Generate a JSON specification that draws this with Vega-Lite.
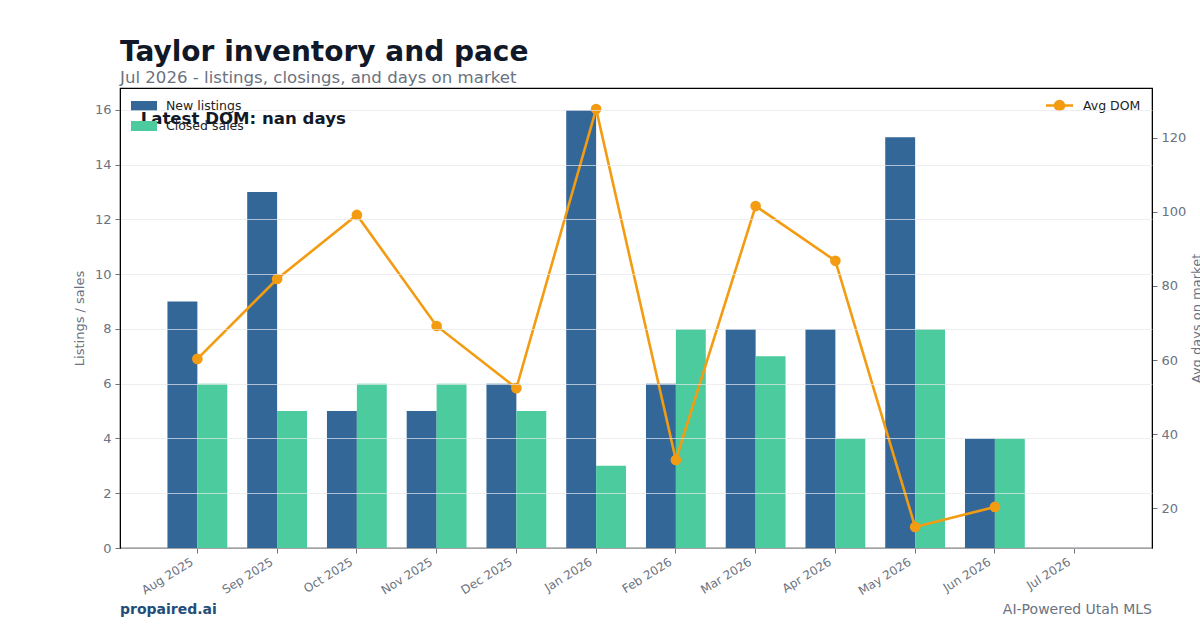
{
  "$schema": "https://vega.github.io/schema/vega-lite/v6.json",
  "autosize": {"type": "none"},
  "width": 1032,
  "height": 460,
  "padding": {"left": 120, "top": 88, "right": 48, "bottom": 82},
  "background": "white",
  "title": {
    "text": "Taylor inventory and pace",
    "subtitle": "Jul 2026 - listings, closings, and days on market",
    "anchor": "start",
    "frame": "group",
    "font": "DejaVu Sans",
    "fontSize": 28,
    "fontWeight": "bold",
    "color": "#111827",
    "subtitleFont": "DejaVu Sans",
    "subtitleFontSize": 16.6,
    "subtitleColor": "#6B7280",
    "subtitlePadding": 3,
    "offset": 1
  },
  "datasets": {
    "counts": [
      {"month": "Aug 2025", "series": "New listings", "value": 9},
      {"month": "Aug 2025", "series": "Closed sales", "value": 6},
      {"month": "Sep 2025", "series": "New listings", "value": 13},
      {"month": "Sep 2025", "series": "Closed sales", "value": 5},
      {"month": "Oct 2025", "series": "New listings", "value": 5},
      {"month": "Oct 2025", "series": "Closed sales", "value": 6},
      {"month": "Nov 2025", "series": "New listings", "value": 5},
      {"month": "Nov 2025", "series": "Closed sales", "value": 6},
      {"month": "Dec 2025", "series": "New listings", "value": 6},
      {"month": "Dec 2025", "series": "Closed sales", "value": 5},
      {"month": "Jan 2026", "series": "New listings", "value": 16},
      {"month": "Jan 2026", "series": "Closed sales", "value": 3},
      {"month": "Feb 2026", "series": "New listings", "value": 6},
      {"month": "Feb 2026", "series": "Closed sales", "value": 8},
      {"month": "Mar 2026", "series": "New listings", "value": 8},
      {"month": "Mar 2026", "series": "Closed sales", "value": 7},
      {"month": "Apr 2026", "series": "New listings", "value": 8},
      {"month": "Apr 2026", "series": "Closed sales", "value": 4},
      {"month": "May 2026", "series": "New listings", "value": 15},
      {"month": "May 2026", "series": "Closed sales", "value": 8},
      {"month": "Jun 2026", "series": "New listings", "value": 4},
      {"month": "Jun 2026", "series": "Closed sales", "value": 4}
    ],
    "dom": [
      {"month": "Aug 2025", "dom": 60.3},
      {"month": "Sep 2025", "dom": 81.9},
      {"month": "Oct 2025", "dom": 99.2},
      {"month": "Nov 2025", "dom": 69.2},
      {"month": "Dec 2025", "dom": 52.4},
      {"month": "Jan 2026", "dom": 127.8},
      {"month": "Feb 2026", "dom": 33.0},
      {"month": "Mar 2026", "dom": 101.6},
      {"month": "Apr 2026", "dom": 86.8},
      {"month": "May 2026", "dom": 14.9},
      {"month": "Jun 2026", "dom": 20.3}
    ]
  },
  "layer": [
    {
      "data": {"name": "counts"},
      "mark": {"type": "bar"},
      "encoding": {
        "x": {
          "field": "month",
          "type": "ordinal",
          "sort": null,
          "scale": {
            "type": "band",
            "domain": ["Aug 2025", "Sep 2025", "Oct 2025", "Nov 2025", "Dec 2025", "Jan 2026", "Feb 2026", "Mar 2026", "Apr 2026", "May 2026", "Jun 2026", "Jul 2026"],
            "paddingInner": 0.25,
            "paddingOuter": 0.595
          },
          "axis": {
            "title": null,
            "labelAngle": -32,
            "labelAlign": "right",
            "labelBaseline": "top",
            "labelFont": "DejaVu Sans",
            "labelFontSize": 12,
            "labelColor": "#6B7280",
            "labelOffset": -8,
            "tickColor": "#6B7280",
            "tickSize": 5,
            "labelPadding": 3,
            "domainColor": "#000000",
            "grid": false
          }
        },
        "xOffset": {
          "field": "series",
          "type": "nominal",
          "sort": ["New listings", "Closed sales"],
          "scale": {"domain": ["New listings", "Closed sales"], "paddingInner": 0, "paddingOuter": 0}
        },
        "y": {
          "field": "value",
          "type": "quantitative",
          "scale": {"domain": [0, 16.8], "nice": false, "zero": true},
          "axis": {
            "title": "Listings / sales",
            "titleFont": "DejaVu Sans",
            "titleFontSize": 13,
            "titleFontWeight": "normal",
            "titleColor": "#6B7280",
            "titlePadding": 8,
            "values": [0, 2, 4, 6, 8, 10, 12, 14, 16],
            "labelFont": "DejaVu Sans",
            "labelFontSize": 13,
            "labelColor": "#6B7280",
            "tickColor": "#6B7280",
            "tickSize": 5,
            "labelPadding": 4,
            "domainColor": "#000000",
            "grid": true,
            "gridColor": "#E5E7EB",
            "gridOpacity": 0.7,
            "gridWidth": 1,
            "zindex": 1
          }
        },
        "fill": {
          "field": "series",
          "type": "nominal",
          "sort": ["New listings", "Closed sales"],
          "scale": {"domain": ["New listings", "Closed sales"], "range": ["#336797", "#4BCB9E"]},
          "legend": {
            "title": null,
            "orient": "none",
            "legendX": 14,
            "legendY": 8,
            "padding": 0,
            "symbolType": "M-1.3,-0.5H1.3V0.5H-1.3Z",
            "symbolSize": 400,
            "symbolStrokeWidth": 0,
            "labelFont": "DejaVu Sans",
            "labelFontSize": 12.5,
            "labelColor": "#222222",
            "labelOffset": 12,
            "rowPadding": 3
          }
        }
      }
    },
    {
      "data": {"name": "dom"},
      "mark": {
        "type": "line",
        "strokeWidth": 2.6,
        "point": {"filled": true, "size": 75, "color": "#F39C12"}
      },
      "encoding": {
        "x": {
          "field": "month",
          "type": "ordinal",
          "sort": null,
          "scale": {
            "type": "band",
            "domain": ["Aug 2025", "Sep 2025", "Oct 2025", "Nov 2025", "Dec 2025", "Jan 2026", "Feb 2026", "Mar 2026", "Apr 2026", "May 2026", "Jun 2026", "Jul 2026"],
            "paddingInner": 0.25,
            "paddingOuter": 0.595
          },
          "axis": null
        },
        "y": {
          "field": "dom",
          "type": "quantitative",
          "scale": {"domain": [9.2, 133.5], "nice": false, "zero": false},
          "axis": {
            "orient": "right",
            "title": "Avg days on market",
            "titleAngle": 270,
            "titleFont": "DejaVu Sans",
            "titleFontSize": 13,
            "titleFontWeight": "normal",
            "titleColor": "#6B7280",
            "titlePadding": 18,
            "values": [20, 40, 60, 80, 100, 120],
            "labelFont": "DejaVu Sans",
            "labelFontSize": 13,
            "labelColor": "#6B7280",
            "tickColor": "#6B7280",
            "tickSize": 5,
            "labelPadding": 4,
            "domainColor": "#000000",
            "grid": false
          }
        },
        "stroke": {
          "datum": "Avg DOM",
          "type": "nominal",
          "scale": {"domain": ["Avg DOM"], "range": ["#F39C12"]},
          "legend": {
            "title": null,
            "orient": "none",
            "legendX": 928,
            "legendY": 6,
            "padding": 0,
            "symbolType": "M-1.35,0H1.35M-0.45,0A0.45,0.45 0 1 1 0.45,0A0.45,0.45 0 1 1 -0.45,0Z",
            "symbolSize": 400,
            "symbolStrokeWidth": 2.6,
            "symbolFillColor": "#F39C12",
            "labelFont": "DejaVu Sans",
            "labelFontSize": 12.5,
            "labelColor": "#222222",
            "labelOffset": 12
          }
        }
      }
    },
    {
      "data": {"values": [{"note": "Latest DOM: nan days"}]},
      "mark": {"type": "text", "align": "left", "baseline": "middle", "font": "DejaVu Sans", "fontSize": 16.6, "fontWeight": "bold", "color": "#111827"},
      "encoding": {
        "text": {"field": "note"},
        "x": {"datum": 0.02, "type": "quantitative", "scale": {"domain": [0, 1], "nice": false}, "axis": null},
        "y": {"datum": 0.933, "type": "quantitative", "scale": {"domain": [0, 1], "nice": false}, "axis": null}
      }
    },
    {
      "data": {"values": [{"note": "propaired.ai"}]},
      "mark": {"type": "text", "align": "left", "baseline": "middle", "font": "DejaVu Sans", "fontSize": 14, "fontWeight": "bold", "color": "#1F4E79", "clip": false},
      "encoding": {
        "text": {"field": "note"},
        "x": {"datum": 0, "type": "quantitative", "scale": {"domain": [0, 1], "nice": false}, "axis": null},
        "y": {"datum": -0.135, "type": "quantitative", "scale": {"domain": [0, 1], "nice": false}, "axis": null}
      }
    },
    {
      "data": {"values": [{"note": "AI-Powered Utah MLS"}]},
      "mark": {"type": "text", "align": "right", "baseline": "middle", "font": "DejaVu Sans", "fontSize": 14, "color": "#6B7280", "clip": false},
      "encoding": {
        "text": {"field": "note"},
        "x": {"datum": 1, "type": "quantitative", "scale": {"domain": [0, 1], "nice": false}, "axis": null},
        "y": {"datum": -0.135, "type": "quantitative", "scale": {"domain": [0, 1], "nice": false}, "axis": null}
      }
    }
  ],
  "resolve": {"scale": {"x": "independent", "y": "independent"}},
  "config": {
    "view": {"stroke": "#000000", "strokeWidth": 1.2},
    "font": "DejaVu Sans"
  }
}
